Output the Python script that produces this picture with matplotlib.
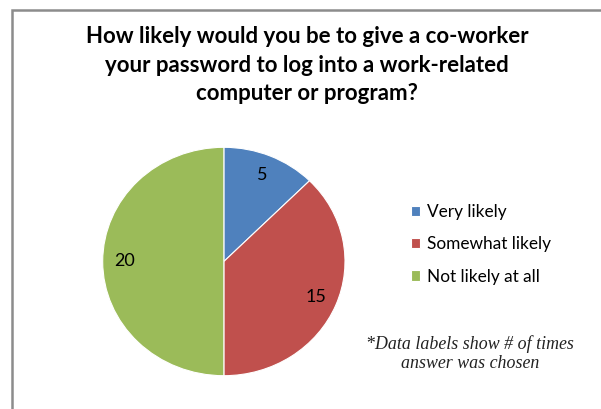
import matplotlib
matplotlib.use("Agg")
import matplotlib.pyplot as plt
from matplotlib.patches import Rectangle

# Survey responses
categories = ["Very likely", "Somewhat likely", "Not likely at all"]
counts = [5, 15, 20]
colors = ["#4F81BD", "#C0504D", "#9BBB59"]

title_lines = [
    "How likely would you be to give a co-worker",
    "your password to log into a work-related",
    "computer or program?",
]
note_lines = ["*Data labels show # of times", "answer was chosen"]

W, H, DPI = 601, 409, 100
fig = plt.figure(figsize=(W / DPI, H / DPI), dpi=DPI)
fig.patch.set_facecolor("white")

def fx(px):
    return px / W

def fy(py):
    return 1 - py / H

# Chart-area border (runs off the right and bottom edges)
fig.patches.append(Rectangle((fx(12), fy(420)), fx(620), 410 / H,
                             transform=fig.transFigure, fill=False,
                             edgecolor="#8C8C8C", linewidth=1.8))

# Title, one baseline per line
for i, line in enumerate(title_lines):
    fig.text(fx(307), fy(43 + 28.5 * i), line, ha="center", va="baseline",
             fontsize=16, fontweight="bold", family="Lato", color="black")

# Pie (slightly wider than tall)
ax = fig.add_axes([fx(102.7), fy(375.7), fx(242.3), 228.4 / H])
total = sum(counts)
wedges, texts, autotexts = ax.pie(
    counts, colors=colors, startangle=90, counterclock=False,
    wedgeprops=dict(edgecolor="white", linewidth=0.8),
    autopct=lambda p: f"{round(p * total / 100):d}", pctdistance=0.82,
    textprops=dict(fontsize=13, family="Lato", color="black"),
)
ax.set_aspect("auto")
ax.set_xlim(-1, 1)
ax.set_ylim(-1, 1)
ax.axis("off")

# Legend
fig.legend(wedges, categories, loc="upper left",
           bbox_to_anchor=(fx(411), fy(204)), frameon=False,
           prop=dict(family="Lato", size=12.4), handlelength=0.55,
           handleheight=0.55, handletextpad=0.4, labelspacing=0.95,
           borderaxespad=0, borderpad=0)

# Note
for i, line in enumerate(note_lines):
    fig.text(fx(470), fy(349 + 19.5 * i), line, ha="center", va="baseline",
             fontsize=12.9, style="italic", family="Liberation Serif",
             color="#222222")

fig.savefig("out.png", dpi=DPI)
